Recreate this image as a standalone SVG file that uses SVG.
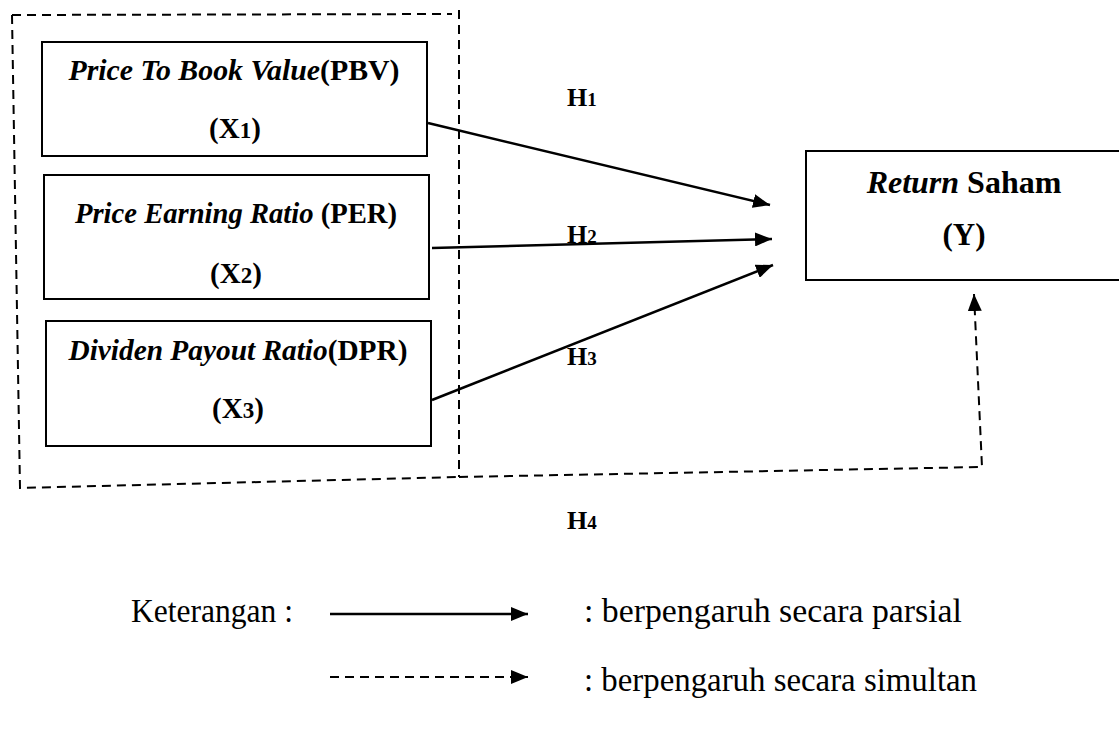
<svg xmlns="http://www.w3.org/2000/svg" width="1119" height="729" viewBox="0 0 1119 729">
<style>
  text { font-family: 'Liberation Serif', Tinos, 'Times New Roman', serif; fill: #000; }
  .b { font-weight: bold; }
  .i { font-style: italic; }
  .box { fill: #fff; stroke: #000; stroke-width: 2; }
  .solid { fill: none; stroke: #000; stroke-width: 2.5; }
  .dash { fill: none; stroke: #000; stroke-width: 2; stroke-dasharray: 9 6; }
</style>
<defs>
  <marker id="ah" markerUnits="userSpaceOnUse" markerWidth="18" markerHeight="14" refX="17" refY="7" orient="auto">
    <path d="M0,0 L17,7 L0,14 z" fill="#000"/>
  </marker>
</defs>
<rect width="1119" height="729" fill="#fff"/>

<g id="group-box">
  <path class="dash" d="M12,15 L452,14 M459,10 L459,477 M12,15 L20,488 L459,477"/>
</g>

<g id="x1">
  <rect class="box" x="42" y="42" width="385" height="114"/>
  <text class="b" x="234" y="80" font-size="29" text-anchor="middle" textLength="331" lengthAdjust="spacingAndGlyphs"><tspan class="i">Price To Book Value</tspan>(PBV)</text>
  <text class="b" x="235" y="138" font-size="29" text-anchor="middle">(X<tspan font-size="23">1</tspan>)</text>
</g>

<g id="x2">
  <rect class="box" x="44" y="175" width="385" height="124"/>
  <text class="b" x="236" y="223" font-size="29" text-anchor="middle" textLength="322" lengthAdjust="spacingAndGlyphs"><tspan class="i">Price Earning Ratio</tspan> (PER)</text>
  <text class="b" x="236" y="283" font-size="29" text-anchor="middle">(X<tspan font-size="23">2</tspan>)</text>
</g>

<g id="x3">
  <rect class="box" x="46" y="321" width="385" height="125"/>
  <text class="b" x="238" y="360" font-size="29" text-anchor="middle" textLength="339" lengthAdjust="spacingAndGlyphs"><tspan class="i">Dividen Payout Ratio</tspan>(DPR)</text>
  <text class="b" x="238" y="418" font-size="29" text-anchor="middle">(X<tspan font-size="23">3</tspan>)</text>
</g>

<g id="y">
  <rect class="box" x="806" y="151" width="320" height="129"/>
  <text class="b" x="964" y="193" font-size="32" text-anchor="middle"><tspan class="i">Return</tspan> Saham</text>
  <text class="b" x="964" y="245" font-size="31" text-anchor="middle">(Y)</text>
</g>

<g id="connectors">
  <line class="solid" x1="428" y1="123" x2="770" y2="205" marker-end="url(#ah)"/>
  <line class="solid" x1="432" y1="248" x2="772" y2="239" marker-end="url(#ah)"/>
  <line class="solid" x1="432" y1="400" x2="773" y2="265" marker-end="url(#ah)"/>
  <polyline class="dash" points="459,477 982,467 974,294" marker-end="url(#ah)"/>
</g>

<g id="labels">
  <text class="b" x="567" y="106" font-size="26">H<tspan font-size="19">1</tspan></text>
  <text class="b" x="567" y="243" font-size="26">H<tspan font-size="19">2</tspan></text>
  <text class="b" x="567" y="365" font-size="26">H<tspan font-size="19">3</tspan></text>
  <text class="b" x="567" y="529" font-size="26">H<tspan font-size="19">4</tspan></text>
</g>

<g id="legend">
  <text x="131" y="622" font-size="34" textLength="162" lengthAdjust="spacingAndGlyphs">Keterangan :</text>
  <line class="solid" x1="330" y1="614" x2="528" y2="614" marker-end="url(#ah)"/>
  <text x="584" y="622" font-size="34" textLength="378" lengthAdjust="spacingAndGlyphs">: berpengaruh secara parsial</text>
  <line class="dash" x1="330" y1="677" x2="528" y2="677" marker-end="url(#ah)"/>
  <text x="584" y="691" font-size="34" textLength="393" lengthAdjust="spacingAndGlyphs">: berpengaruh secara simultan</text>
</g>
</svg>
